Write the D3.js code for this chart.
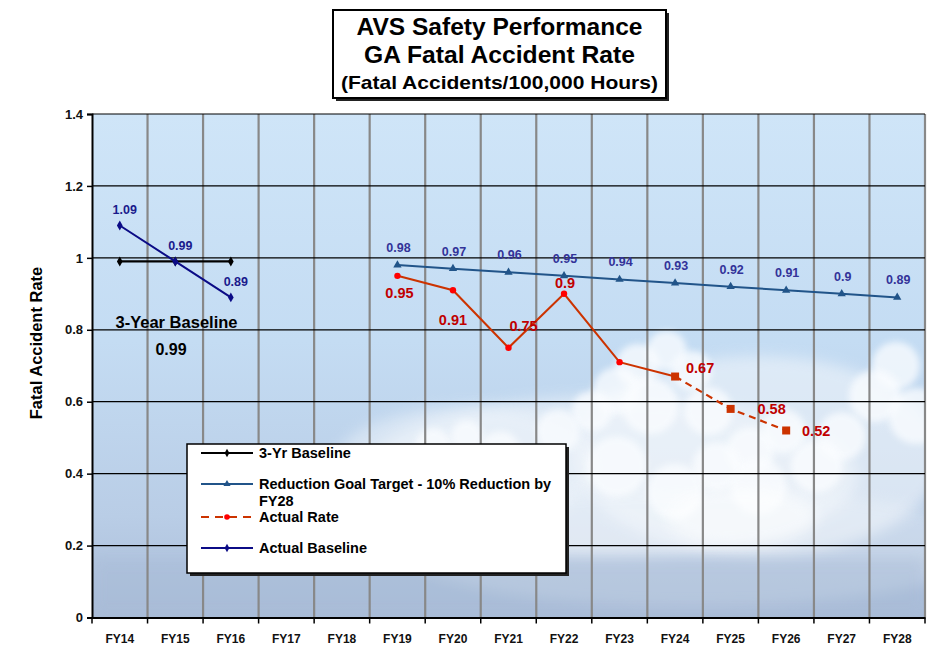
<!DOCTYPE html>
<html>
<head>
<meta charset="utf-8">
<script src="https://cdn.jsdelivr.net/npm/d3@7"></script>
<style>
  body { margin: 0; background: #fff; }
  text { font-family: Arial, "Liberation Sans", sans-serif; font-weight: bold; }
</style>
</head>
<body>
<div id="chart"></div>
<script>
// ---- data ----
const years = ["FY14","FY15","FY16","FY17","FY18","FY19","FY20","FY21","FY22","FY23","FY24","FY25","FY26","FY27","FY28"];
const yTicks = [0, 0.2, 0.4, 0.6, 0.8, 1, 1.2, 1.4];

const baselineYears = ["FY14","FY15","FY16"];
const threeYrBaseline = [0.99, 0.99, 0.99];
const actualBaseline = [1.09, 0.99, 0.89];

const goalYears = ["FY19","FY20","FY21","FY22","FY23","FY24","FY25","FY26","FY27","FY28"];
const goalValues = [0.98, 0.97, 0.96, 0.95, 0.94, 0.93, 0.92, 0.91, 0.9, 0.89];

const rateYears = ["FY19","FY20","FY21","FY22","FY23","FY24"];
const rateValues = [0.95, 0.91, 0.75, 0.9, 0.71, 0.67];
const rateLabels = ["0.95","0.91","0.75","0.9","","0.67"];

const projYears = ["FY24","FY25","FY26"];
const projValues = [0.67, 0.58, 0.52];
const projLabels = ["","0.58","0.52"];

// label offsets (pixels) – placement only
const rateLabelOff = [[2,22],[0,35],[15,-17],[1,-6],[0,0],[25,-4]];
const projLabelOff = [[0,0],[41,5],[30,6]];

const W = 947, H = 663;
const margin = {top: 114, right: 22, bottom: 45.5, left: 92};
const width = W - margin.left - margin.right;
const height = H - margin.top - margin.bottom;

const svg = d3.select("#chart").append("svg")
  .attr("width", W).attr("height", H);

const defs = svg.append("defs");
const sky = defs.append("linearGradient").attr("id","sky")
  .attr("x1",0).attr("y1",0).attr("x2",0).attr("y2",1);
sky.append("stop").attr("offset","0%").attr("stop-color","#cfe5f8");
sky.append("stop").attr("offset","45%").attr("stop-color","#c4dcf3");
sky.append("stop").attr("offset","80%").attr("stop-color","#b9cde6");
sky.append("stop").attr("offset","100%").attr("stop-color","#aabdd8");

defs.append("filter").attr("id","blur").attr("x","-50%").attr("y","-50%").attr("width","200%").attr("height","200%")
  .append("feGaussianBlur").attr("stdDeviation", 7);
defs.append("filter").attr("id","blurS").attr("x","-50%").attr("y","-50%").attr("width","200%").attr("height","200%")
  .append("feGaussianBlur").attr("stdDeviation", 3);
defs.append("clipPath").attr("id","plotclip")
  .append("rect").attr("width", width).attr("height", height);

const g = svg.append("g").attr("transform", `translate(${margin.left},${margin.top})`);

const x = d3.scaleBand().domain(years).range([0, width]);
const y = d3.scaleLinear().domain([0, 1.4]).range([height, 0]);
const cx = d => x(d) + x.bandwidth() / 2;

// background sky
g.append("rect").attr("width", width).attr("height", height).attr("fill", "url(#sky)");

// clouds (decoration, in plot fractions)
const clouds = g.append("g").attr("clip-path","url(#plotclip)");
const haze = [
  [0.62, 0.72, 0.30, 0.16, 0.55],
  [0.80, 0.68, 0.22, 0.20, 0.55],
  [0.45, 0.70, 0.16, 0.12, 0.45],
  [0.72, 0.86, 0.35, 0.12, 0.30]
];
clouds.selectAll("ellipse.haze").data(haze).join("ellipse")
  .attr("class","haze")
  .attr("cx", d => d[0]*width).attr("cy", d => d[1]*height)
  .attr("rx", d => d[2]*width).attr("ry", d => d[3]*height)
  .attr("fill", "#f4f8fc").attr("opacity", d => d[4])
  .attr("filter","url(#blur)");
const puffs = [
  [0.655, 0.50, 22], [0.69, 0.47, 20], [0.72, 0.51, 20], [0.63, 0.55, 24], [0.67, 0.58, 28],
  [0.60, 0.59, 20], [0.56, 0.63, 22], [0.74, 0.59, 24],
  [0.965, 0.50, 24], [0.94, 0.56, 26], [0.99, 0.60, 28], [0.90, 0.64, 24],
  [0.79, 0.67, 24], [0.83, 0.63, 22], [0.87, 0.70, 26], [0.80, 0.74, 28], [0.75, 0.70, 24],
  [0.41, 0.66, 18], [0.45, 0.64, 16], [0.49, 0.67, 20],
  [0.52, 0.73, 28], [0.63, 0.70, 30], [0.70, 0.75, 28]
];
clouds.selectAll("circle.puff").data(puffs).join("circle")
  .attr("class","puff")
  .attr("cx", d => d[0]*width).attr("cy", d => d[1]*height).attr("r", d => d[2])
  .attr("fill", "#fbfdff").attr("opacity", 0.75)
  .attr("filter","url(#blurS)");
clouds.append("ellipse")
  .attr("cx", 0.78*width).attr("cy", 0.80*height).attr("rx", 0.09*width).attr("ry", 0.06*height)
  .attr("fill","#ffffff").attr("opacity",0.5).attr("filter","url(#blur)");
clouds.append("rect").attr("x",0).attr("y",0.88*height).attr("width",width).attr("height",0.12*height)
  .attr("fill","#a7bad6").attr("opacity",0.45).attr("filter","url(#blur)");

// vertical grid (grey, at band boundaries)
g.append("g").selectAll("line").data(years).join("line")
  .attr("x1", (d,i) => x.step()*(i+1)).attr("x2", (d,i) => x.step()*(i+1))
  .attr("y1", 0).attr("y2", height)
  .attr("stroke", "#888").attr("stroke-width", 2.2);

// horizontal grid
g.append("g").selectAll("line").data(yTicks.slice(1)).join("line")
  .attr("x1", 0).attr("x2", width)
  .attr("y1", d => y(d)).attr("y2", d => y(d))
  .attr("stroke", "#000").attr("stroke-width", 1.2);

// y axis
const yAxis = g.append("g")
  .call(d3.axisLeft(y).tickValues(yTicks).tickSize(5).tickFormat(d3.format("~g")));
yAxis.select(".domain").attr("stroke","#000").attr("stroke-width",2);
yAxis.selectAll(".tick line").attr("stroke","#000").attr("stroke-width",1.5);
yAxis.selectAll(".tick text").attr("font-size", 13).attr("font-weight","bold")
  .attr("font-family","Arial, 'Liberation Sans', sans-serif").attr("fill","#111").attr("x", -9);

// x axis
const xAxis = g.append("g").attr("transform", `translate(0,${height})`)
  .call(d3.axisBottom(x).tickSize(0).tickSizeOuter(0));
xAxis.select(".domain").attr("stroke","#000").attr("stroke-width",2);
xAxis.selectAll(".tick text").attr("font-size", 12).attr("font-weight","bold")
  .attr("font-family","Arial, 'Liberation Sans', sans-serif").attr("fill","#111").attr("dy", "1.9em");
xAxis.append("g").selectAll("line").data(d3.range(years.length + 1)).join("line")
  .attr("x1", i => i*x.step()).attr("x2", i => i*x.step())
  .attr("y1", 0).attr("y2", 6).attr("stroke","#000").attr("stroke-width",1.5);

// y label
svg.append("text")
  .attr("transform", `translate(42,343) rotate(-90)`)
  .attr("text-anchor","middle").attr("font-size", 16.5).attr("fill","#000")
  .text("Fatal Accident Rate");

const line = d3.line();
const diamond = d3.symbol().type(d3.symbolDiamond);

// 3-yr baseline
const base = baselineYears.map((yr,i) => [cx(yr), y(threeYrBaseline[i])]);
g.append("path").attr("d", line(base)).attr("fill","none").attr("stroke","#000").attr("stroke-width",2.2);
g.selectAll("path.bd").data(base).join("path").attr("class","bd")
  .attr("d", diamond.size(28)).attr("transform", d => `translate(${d[0]},${d[1]})`).attr("fill","#000");

// actual baseline
const ab = baselineYears.map((yr,i) => [cx(yr), y(actualBaseline[i])]);
g.append("path").attr("d", line(ab)).attr("fill","none").attr("stroke","#0b0b86").attr("stroke-width",2);
g.selectAll("path.abd").data(ab).join("path").attr("class","abd")
  .attr("d", diamond.size(28)).attr("transform", d => `translate(${d[0]},${d[1]})`).attr("fill","#0b0b86");
g.selectAll("text.abl").data(actualBaseline).join("text").attr("class","abl")
  .attr("x", (d,i) => cx(baselineYears[i]) + 5).attr("y", d => y(d) - 11)
  .attr("text-anchor","middle").attr("font-size",12.5).attr("fill","#1a1a8c")
  .text(d => d3.format("~g")(d));

// annotation
g.append("text").attr("x", 176.5 - margin.left).attr("y", 328 - margin.top)
  .attr("text-anchor","middle").attr("font-size",16.5).attr("fill","#000").text("3-Year Baseline");
g.append("text").attr("x", 171 - margin.left).attr("y", 355 - margin.top)
  .attr("text-anchor","middle").attr("font-size",16).attr("fill","#000").text(d3.format(".2f")(d3.mean(actualBaseline)));

// goal target
const gp = goalYears.map((yr,i) => [cx(yr), y(goalValues[i])]);
g.append("path").attr("d", line(gp)).attr("fill","none").attr("stroke","#215489").attr("stroke-width",2);
g.selectAll("path.gt").data(gp).join("path").attr("class","gt")
  .attr("d", d3.symbol().type(d3.symbolTriangle).size(30)).attr("transform", d => `translate(${d[0]},${d[1]})`).attr("fill","#215489");
g.selectAll("text.gl").data(goalValues).join("text").attr("class","gl")
  .attr("x", (d,i) => cx(goalYears[i]) + 1).attr("y", d => y(d) - 13)
  .attr("text-anchor","middle").attr("font-size",12.5).attr("fill","#333399")
  .text(d => d3.format("~g")(d));

// actual rate
const rp = rateYears.map((yr,i) => [cx(yr), y(rateValues[i])]);
g.append("path").attr("d", line(rp)).attr("fill","none").attr("stroke","#cc3300").attr("stroke-width",2);
const pp = projYears.map((yr,i) => [cx(yr), y(projValues[i])]);
g.append("path").attr("d", line(pp)).attr("fill","none").attr("stroke","#cc3300").attr("stroke-width",2.2)
  .attr("stroke-dasharray","7,5");
g.selectAll("circle.rd").data(rp.slice(0, -1)).join("circle").attr("class","rd")
  .attr("cx", d => d[0]).attr("cy", d => d[1]).attr("r", 3.2).attr("fill","#ff0000");
g.selectAll("rect.pd").data(pp).join("rect").attr("class","pd")
  .attr("x", d => d[0]-4).attr("y", d => d[1]-4).attr("width",8).attr("height",8).attr("fill","#cc3300");
g.selectAll("text.rl").data(rateValues).join("text").attr("class","rl")
  .attr("x", (d,i) => cx(rateYears[i]) + rateLabelOff[i][0]).attr("y", (d,i) => y(d) + rateLabelOff[i][1])
  .attr("text-anchor","middle").attr("font-size",14.5).attr("fill","#c00000")
  .text((d,i) => rateLabels[i]);
g.selectAll("text.pl").data(projValues).join("text").attr("class","pl")
  .attr("x", (d,i) => cx(projYears[i]) + projLabelOff[i][0]).attr("y", (d,i) => y(d) + projLabelOff[i][1])
  .attr("text-anchor","middle").attr("font-size",14.5).attr("fill","#c00000")
  .text((d,i) => projLabels[i]);

// legend
const lg = svg.append("g").attr("transform","translate(187,444)");
lg.append("rect").attr("x",3).attr("y",3).attr("width",379).attr("height",129).attr("fill","#222");
lg.append("rect").attr("width",379).attr("height",129).attr("fill","#fff").attr("stroke","#000").attr("stroke-width",1.5);
const legendItems = [
  {lines:["3-Yr Baseline"], y: 9, color:"#000", mark:"diamond"},
  {lines:["Reduction Goal Target - 10% Reduction by","FY28"], y: 40, color:"#215489", mark:"tri"},
  {lines:["Actual Rate"], y: 73, color:"#cc3300", mark:"dot", dash:true},
  {lines:["Actual Baseline"], y: 104, color:"#0b0b86", mark:"diamond"}
];
legendItems.forEach(it => {
  const row = lg.append("g").attr("transform", `translate(0,${it.y})`);
  row.append("line").attr("x1",14).attr("x2",66).attr("stroke", it.color).attr("stroke-width",2)
    .attr("stroke-dasharray", it.dash ? "8,6" : null);
  if (it.mark === "tri") row.append("path").attr("d", d3.symbol().type(d3.symbolTriangle).size(22)).attr("transform","translate(40,0)").attr("fill", it.color);
  else if (it.mark === "dot") row.append("circle").attr("cx",40).attr("r",2.8).attr("fill","#ff0000");
  else row.append("path").attr("d", d3.symbol().type(d3.symbolDiamond).size(20)).attr("transform","translate(40,0)").attr("fill", it.color);
  it.lines.forEach((t,k) => row.append("text").attr("x",72).attr("y", 5 + k*17)
    .attr("font-size",14.5).attr("fill","#000").text(t));
});

// title box
const tb = svg.append("g").attr("transform","translate(333,10)");
tb.append("rect").attr("x",3).attr("y",3).attr("width",333).attr("height",88).attr("fill","#222");
tb.append("rect").attr("width",333).attr("height",88).attr("fill","#fff").attr("stroke","#000").attr("stroke-width",2);
const titleLines = [["AVS Safety Performance", 23, 25, 286], ["GA Fatal Accident Rate", 23, 53, 271], ["(Fatal Accidents/100,000 Hours)", 19, 79, 317]];
titleLines.forEach(t => tb.append("text").attr("x", 166.5).attr("y", t[2]).attr("text-anchor","middle")
  .attr("font-size", t[1]).attr("fill","#000")
  .attr("textLength", t[3]).attr("lengthAdjust","spacingAndGlyphs").text(t[0]));
</script>
</body>
</html>
